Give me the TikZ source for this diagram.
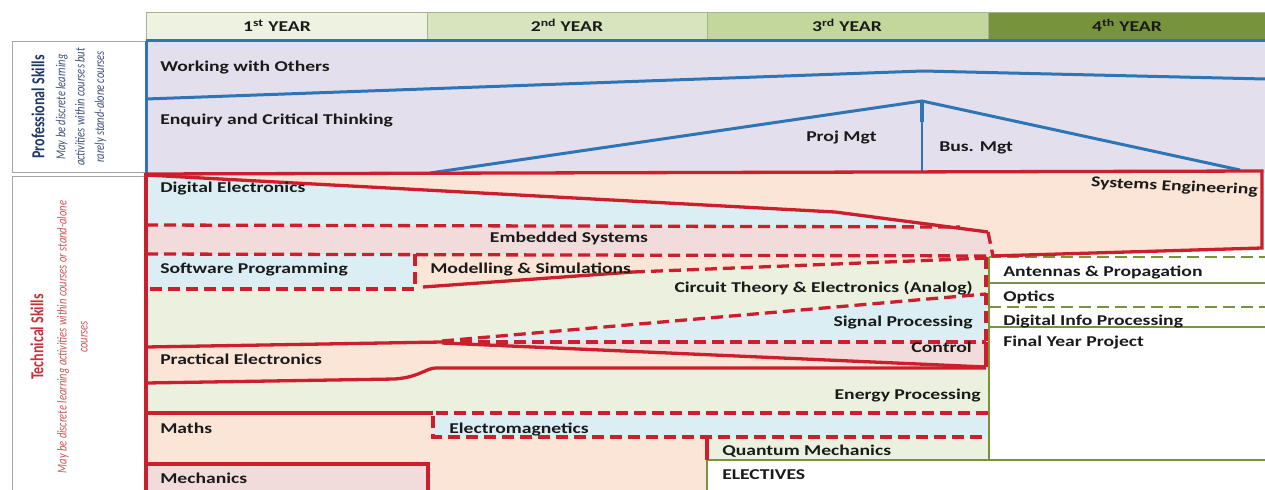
\documentclass[tikz,border=0pt]{standalone}
\usepackage{fontspec}
\setmainfont{Carlito}
\definecolor{lav}{HTML}{E4DFEC}
\definecolor{bl}{HTML}{2E75B6}
\definecolor{rd}{HTML}{CC1F2E}
\definecolor{peach}{HTML}{FBE5D7}
\definecolor{lblue}{HTML}{DBEEF4}
\definecolor{pinkb}{HTML}{F2DCDB}
\definecolor{lgreen}{HTML}{EBF1DE}
\definecolor{grn}{HTML}{77933C}
\definecolor{hA}{HTML}{EEF3E1}
\definecolor{hB}{HTML}{D7E4BD}
\definecolor{hC}{HTML}{C3D69B}
\definecolor{hD}{HTML}{77933C}
\definecolor{hline}{HTML}{A5B58A}
\definecolor{txt}{HTML}{1A1A1A}
\definecolor{navy}{HTML}{203864}
\definecolor{navysub}{HTML}{3E5075}
\definecolor{tred}{HTML}{C9303A}
\definecolor{tredsub}{HTML}{CC5555}
\tikzset{
  lab/.style={font=\fontsize{15}{18}\selectfont\bfseries, text=txt,
    text height=9.7pt, text depth=0pt, inner sep=0pt},
  hdr/.style={draw=hline, line width=0.8pt},
  sidebox/.style={draw=gray!70, line width=0.9pt},
  blueline/.style={draw=bl, line width=3pt},
  redline/.style={draw=rd, line width=3.3pt},
  reddash/.style={redline, dash pattern=on 12pt off 6pt},
  grnline/.style={draw=grn, line width=2.6pt},
  grndash/.style={grnline, dash pattern=on 12pt off 6pt},
  vlabel/.style={rotate=90, inner sep=0pt, align=center}
}
\begin{document}
\begin{tikzpicture}[xscale=1.31, x=0.763359pt, y=-1pt,
  every node/.style={transform shape}]
\useasboundingbox (0,0) rectangle (1265,489);
\clip (0,0) rectangle (1265,489);

% year header
\filldraw[hdr, fill=hA] (146,12) rectangle (427,41);
\filldraw[hdr, fill=hB] (427,12) rectangle (707,41);
\filldraw[hdr, fill=hC] (707,12) rectangle (988,41);
\filldraw[hdr, fill=hD] (988,12) rectangle (1270,41);
\node[lab] (y1) at (277,27) {1\textsuperscript{st} YEAR};
\node[lab] (y2) at (567,27) {2\textsuperscript{nd} YEAR};
\node[lab] (y3) at (847,27) {3\textsuperscript{rd} YEAR};
\node[lab] (y4) at (1127,27) {4\textsuperscript{th} YEAR};

% side label boxes
\draw[sidebox] (12,41) rectangle (146,172);
\draw[sidebox] (12,176) rectangle (146,500);

% professional skills band
\fill[lav] (146,41) rectangle (1265,173);

% technical skills background
\fill[lgreen] (146,173) rectangle (988,495);
\fill[white] (988,256) rectangle (1265,495);

% systems engineering
\fill[peach] (146,174) -- (1262,171) -- (1262,248) -- (992,256) -- (988,232)
  -- (835,212) -- (146,176) -- cycle;
% digital electronics
\fill[lblue] (146,175) -- (835,212) -- (988,232) -- (955,227) -- (146,225) -- cycle;
% embedded systems
\fill[pinkb] (146,225) -- (955,227) -- (988,232) -- (993,256) -- (146,254) -- cycle;
% software programming
\fill[lblue] (146,254) rectangle (415,289);
% modelling and simulations
\fill[peach] (415,254) -- (993,256) -- (988,258) -- (633,272) -- (423,287)
  -- (415,289) -- cycle;
% signal processing
\fill[lblue] (442,342) -- (986,294) -- (986,342) -- cycle;
% control
\fill[pinkb] (442,342) -- (986,342) -- (986,367) -- cycle;
% practical electronics
\fill[peach] (146,347) -- (442,342) -- (986,367) -- (986,368) -- (436,368)
  .. controls (426,368) and (420,377) .. (395,379) -- (146,383) -- cycle;
% maths, electromagnetics, mechanics, electives
\fill[peach] (146,413) rectangle (707,495);
\fill[lblue] (433,413) rectangle (988,437);
\fill[pinkb] (146,464) rectangle (428,495);
\fill[white] (707,460) rectangle (1265,495);

% professional skills boundaries
\draw[blueline] (146,41) -- (1265,41);
\draw[blueline] (146,41) -- (146,173);
\draw[blueline] (146,99) -- (923,71) -- (1265,79);
\draw[blueline] (430,173) -- (922,101) -- (1240,170);
\draw[blueline, line width=2.2pt] (922,101) -- (922,172);
\draw[blueline, line width=4pt] (922,101) -- (922,122);

% fourth-year column
\draw[grnline] (989,257) -- (989,460);
\draw[grndash] (989,257) -- (1265,257);
\draw[draw=grn!70!gray, line width=1.3pt] (989,283) -- (1265,283);
\draw[grndash] (989,307) -- (1265,307);
\draw[grnline] (989,327) -- (1265,327);
\draw[grnline] (707,460) -- (1265,460);
\draw[grnline] (707,460) -- (707,495);

% technical skills boundaries
\draw[redline] (146,174) -- (1262,171) -- (1262,248) -- (992,256);
\draw[redline] (146,173) -- (146,495);
\draw[redline] (146,175) -- (835,212) -- (988,232);
\draw[reddash] (146,225) -- (960,227);
\draw[reddash] (988,232) -- (993,256);
\draw[reddash] (146,254) -- (993,256);
\draw[reddash] (415,254) -- (415,289) -- (146,289);
\draw[redline] (423,287) -- (633,272);
\draw[reddash] (633,272) -- (988,258);
\draw[reddash] (986,257) -- (986,342);
\draw[redline] (986,342) -- (986,367);
\draw[reddash] (442,341) -- (986,294);
\draw[reddash] (442,342) -- (986,342);
\draw[redline] (442,343) -- (986,367);
\draw[redline] (146,347) -- (442,342);
\draw[redline] (146,383) -- (395,379) .. controls (420,377) and (426,368) .. (436,368)
  -- (986,368);
\draw[redline] (146,413) -- (433,413);
\draw[reddash] (988,413) -- (433,413) -- (433,437) -- (988,437);
\draw[redline] (707,437) -- (707,460);
\draw[redline] (146,464) -- (428,464) -- (428,495);

% side labels
\node[vlabel, font=\fontsize{14}{15}\selectfont\bfseries, text=navy] (ps)
  at (38,107) {Professional Skills};
\node[vlabel, font=\fontsize{10.5}{14.8}\selectfont\itshape, text=navysub] (psd)
  at (81,107) {May be discrete learning\\activities within courses but\\rarely stand-alone courses};
\node[vlabel, font=\fontsize{14}{15}\selectfont\bfseries, text=tred] (ts)
  at (37,337) {Technical Skills};
\node[vlabel, font=\fontsize{10.5}{16}\selectfont\itshape, text=tredsub] (tsd)
  at (72.5,337) {May be discrete learning activities within courses or stand-alone\\courses};

% professional skill labels
\node[lab, anchor=west] (wwo) at (160,67) {Working with Others};
\node[lab, anchor=west] (ect) at (160,120) {Enquiry and Critical Thinking};
\node[lab, anchor=west] (pm) at (806,136.5) {Proj Mgt};
\node[lab, anchor=west] (bm) at (939,146.7) {Bus. Mgt};

% technical skill labels
\node[lab, anchor=east, rotate=-3.6] (se) at (1258,190) {Systems Engineering};
\node[lab, anchor=west] (de) at (160,188) {Digital Electronics};
\node[lab] (es) at (569,238) {Embedded Systems};
\node[lab, anchor=west] (sp) at (160,269) {Software Programming};
\node[lab, anchor=west] (ms) at (430,269) {Modelling \& Simulations};
\node[lab, anchor=east] (ct) at (973,288) {Circuit Theory \& Electronics (Analog)};
\node[lab, anchor=east] (sig) at (973,321.7) {Signal Processing};
\node[lab, anchor=east] (ctl) at (972,348) {Control};
\node[lab, anchor=west] (pe) at (160,360) {Practical Electronics};
\node[lab, anchor=east] (ep) at (981,395) {Energy Processing};
\node[lab, anchor=west] (ma) at (160,429) {Maths};
\node[lab, anchor=west] (em) at (449,429) {Electromagnetics};
\node[lab, anchor=west] (qm) at (722,451) {Quantum Mechanics};
\node[lab, anchor=west] (me) at (160,479) {Mechanics};
\node[lab, anchor=west] (el) at (722,475) {ELECTIVES};

% fourth-year labels
\node[lab, anchor=west] (ap) at (1003,271.7) {Antennas \& Propagation};
\node[lab, anchor=west] (op) at (1003,296.7) {Optics};
\node[lab, anchor=west] (dip) at (1003,320.7) {Digital Info Processing};
\node[lab, anchor=west] (fyp) at (1003,341.7) {Final Year Project};
\end{tikzpicture}
\end{document}
